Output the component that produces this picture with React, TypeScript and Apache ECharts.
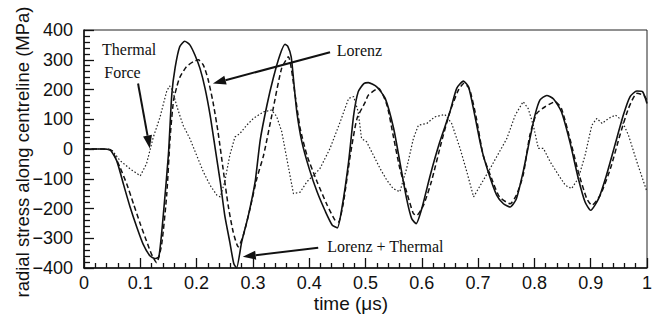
import React, { useEffect, useRef } from 'react';
import * as echarts from 'echarts';

// time (µs), radial stress (MPa)
const lorenzThermal: [number, number][] = [
  [0, 0], [0.03, 0], [0.046, -3], [0.058, -39], [0.07, -118], [0.082, -196], [0.094, -264],
  [0.105, -320], [0.117, -359], [0.126, -368], [0.133, -362], [0.141, -219], [0.15, -17],
  [0.156, 185], [0.162, 275], [0.17, 344], [0.179, 362], [0.188, 350], [0.197, 316],
  [0.206, 271], [0.215, 204], [0.224, 114], [0.233, 2], [0.242, -110], [0.25, -223],
  [0.259, -313], [0.266, -385], [0.271, -400], [0.28, -313], [0.292, -223], [0.304, -110],
  [0.313, 30], [0.325, 148], [0.336, 237], [0.348, 316], [0.357, 352], [0.362, 345],
  [0.368, 310], [0.372, 237], [0.378, 125], [0.387, 24], [0.4, -66], [0.414, -144],
  [0.429, -211], [0.441, -256], [0.45, -265], [0.458, -200], [0.47, -43], [0.479, 114],
  [0.487, 192], [0.497, 220], [0.505, 223], [0.52, 209], [0.535, 170], [0.55, 69],
  [0.561, -43], [0.573, -167], [0.582, -234], [0.59, -251], [0.6, -200], [0.615, -88],
  [0.632, 24], [0.65, 125], [0.662, 204], [0.674, 228], [0.683, 209], [0.694, 114],
  [0.706, 2], [0.718, -77], [0.733, -155], [0.745, -184], [0.757, -195], [0.768, -167],
  [0.78, -77], [0.792, 35], [0.801, 114], [0.81, 165], [0.822, 180], [0.834, 168],
  [0.848, 125], [0.863, 24], [0.878, -99], [0.89, -178], [0.9, -206], [0.914, -167],
  [0.928, -88], [0.943, 13], [0.958, 114], [0.97, 176], [0.982, 195], [0.992, 193], [1.0, 153],
];

const lorenz: [number, number][] = [
  [0, 0], [0.035, 0], [0.049, -5], [0.064, -62], [0.076, -118], [0.088, -185], [0.1, -252],
  [0.111, -309], [0.12, -354], [0.129, -382], [0.138, -320], [0.147, -152], [0.153, 39],
  [0.159, 163], [0.165, 210], [0.17, 240], [0.182, 277], [0.194, 293], [0.203, 300],
  [0.212, 282], [0.22, 237], [0.229, 159], [0.238, 58], [0.247, -66], [0.256, -189],
  [0.265, -279], [0.274, -329], [0.283, -290], [0.295, -200], [0.307, -99], [0.319, -21],
  [0.336, 136], [0.351, 271], [0.363, 310], [0.375, 181], [0.384, 69], [0.396, -21],
  [0.414, -110], [0.432, -189], [0.446, -240], [0.452, -245], [0.461, -178], [0.473, -21],
  [0.485, 103], [0.5, 159], [0.505, 181], [0.523, 204], [0.538, 148], [0.549, 47],
  [0.561, -66], [0.573, -144], [0.585, -217], [0.591, -223], [0.603, -189], [0.617, -110],
  [0.635, 24], [0.65, 125], [0.665, 198], [0.675, 221], [0.685, 200], [0.697, 103],
  [0.709, -21], [0.724, -99], [0.738, -161], [0.757, -184], [0.768, -155], [0.78, -88],
  [0.792, 47], [0.804, 119], [0.819, 142], [0.837, 159], [0.848, 136], [0.863, 35],
  [0.878, -77], [0.893, -167], [0.902, -189], [0.917, -155], [0.935, -66], [0.952, 47],
  [0.967, 136], [0.982, 187], [0.994, 181], [1.0, 164],
];

const thermalForce: [number, number][] = [
  [0, 0], [0.04, 0], [0.05, -5], [0.064, -39], [0.082, -67], [0.1, -90], [0.111, -50],
  [0.123, 39], [0.135, 107], [0.147, 195], [0.152, 212], [0.158, 195], [0.162, 163],
  [0.168, 125], [0.176, 80], [0.188, 35], [0.2, -21], [0.212, -77], [0.224, -122],
  [0.236, -155], [0.242, -161], [0.25, -110], [0.259, -21], [0.268, 40], [0.277, 52],
  [0.289, 80], [0.301, 103], [0.319, 125], [0.333, 131], [0.342, 110], [0.351, 60],
  [0.36, -30], [0.372, -150], [0.384, -145], [0.396, -110], [0.408, -88], [0.419, -66],
  [0.437, 2], [0.455, 91], [0.47, 170], [0.479, 176], [0.487, 125], [0.493, 35],
  [0.502, 24], [0.514, -21], [0.526, -66], [0.538, -105], [0.549, -133], [0.561, -144],
  [0.573, -66], [0.585, 35], [0.594, 80], [0.609, 86], [0.623, 108], [0.641, 116],
  [0.653, 86], [0.668, 2], [0.68, -77], [0.692, -161], [0.704, -122], [0.718, -77],
  [0.733, -26], [0.751, 35], [0.766, 114], [0.78, 159], [0.789, 136], [0.798, 80],
  [0.807, 2], [0.816, 2], [0.828, -43], [0.843, -88], [0.855, -122], [0.866, -133],
  [0.878, -99], [0.89, -21], [0.902, 80], [0.911, 103], [0.92, 86], [0.932, 103],
  [0.944, 114], [0.955, 97], [0.967, 47], [0.982, -43], [1.0, -144],
];

const xAxisName = 'time (\u03bcs)';
const yAxisName = 'radial stress along centreline (MPa)';

// annotations in data coordinates
const labels = [
  { text: 'Thermal', at: [0.032, 335] },
  { text: 'Force', at: [0.036, 258] },
  { text: 'Lorenz', at: [0.449, 332] },
  { text: 'Lorenz + Thermal', at: [0.432, -328] },
];
const arrows = [
  { from: [0.096, 220], to: [0.117, 2] },
  { from: [0.437, 325], to: [0.229, 220] },
  { from: [0.416, -332], to: [0.282, -362] },
];

export default function App() {
  const ref = useRef<HTMLDivElement>(null);
  useEffect(() => {
    const chart = echarts.init(ref.current!, null, { renderer: 'svg' });
    const axisFont = { fontFamily: 'Liberation Sans', fontSize: 18, color: '#111' };
    chart.setOption({
      animation: false,
      backgroundColor: '#fff',
      grid: { left: 84, right: 10, top: 30, bottom: 47, show: true, borderColor: '#222', borderWidth: 1, backgroundColor: 'transparent' },
      xAxis: {
        type: 'value', min: 0, max: 1, interval: 0.1,
        axisLine: { onZero: false, lineStyle: { color: '#111', width: 1.5 } },
        axisTick: { inside: true, length: 10, lineStyle: { color: '#111', width: 1.3 } },
        minorTick: { show: true, splitNumber: 5, length: 5, lineStyle: { color: '#111', width: 1.3 } },
        splitLine: { show: false },
        axisLabel: {
          ...axisFont, margin: 6,
          formatter: (v: number) => (v === 0 ? '0' : v === 1 ? '1' : v.toFixed(1)),
        },
      },
      yAxis: {
        type: 'value', min: -400, max: 400, interval: 100,
        axisLine: { onZero: false, lineStyle: { color: '#111', width: 1.5 } },
        axisTick: { inside: true, length: 10, lineStyle: { color: '#111', width: 1.3 } },
        minorTick: { show: true, splitNumber: 5, length: 6, lineStyle: { color: '#111', width: 1.3 } },
        splitLine: { show: false },
        axisLabel: {
          ...axisFont, margin: 11,
          formatter: (v: number) => (v < 0 ? '\u2212' + Math.abs(v) : String(v)),
        },
      },
      series: [
        {
          name: 'Lorenz + Thermal', type: 'line', data: lorenzThermal, showSymbol: false, smooth: 0.2,
          lineStyle: { color: '#111', width: 1.6, type: 'solid' },
        },
        {
          name: 'Lorenz', type: 'line', data: lorenz, showSymbol: false, smooth: 0.2,
          lineStyle: { color: '#111', width: 1.5, type: [5, 3] },
        },
        {
          name: 'Thermal Force', type: 'line', data: thermalForce, showSymbol: false, smooth: false,
          lineStyle: { color: '#222', width: 1.2, type: [1.5, 2] },
        },
      ],
    });

    const px = (pt: number[]) => chart.convertToPixel({ gridIndex: 0 }, pt) as number[];
    const graphics: any[] = [];
    labels.forEach((l) => {
      const [x, y] = px(l.at);
      graphics.push({
        type: 'text', x, y, silent: true,
        style: { text: l.text, fontFamily: 'Liberation Serif', fontSize: 16, fill: '#111', verticalAlign: 'middle', align: 'left' },
      });
    });
    arrows.forEach((a) => {
      const [sx, sy] = px(a.from);
      const [tx, ty] = px(a.to);
      const dx = tx - sx, dy = ty - sy;
      const len = Math.hypot(dx, dy);
      const ux = dx / len, uy = dy / len;
      const hl = 13, hw = 4.5;
      const bx = tx - ux * hl, by = ty - uy * hl;
      graphics.push({
        type: 'line', silent: true,
        shape: { x1: sx, y1: sy, x2: bx, y2: by },
        style: { stroke: '#111', lineWidth: 2 },
      });
      graphics.push({
        type: 'polygon', silent: true,
        shape: { points: [[tx, ty], [bx - uy * hw, by + ux * hw], [bx + uy * hw, by - ux * hw]] },
        style: { fill: '#111' },
      });
    });
    graphics.push({
      type: 'text', x: 351, y: 303, silent: true,
      style: { text: xAxisName, fontFamily: 'Liberation Sans', fontSize: 19, fill: '#111', align: 'center', verticalAlign: 'middle' },
    });
    graphics.push({
      type: 'text', x: 22, y: 152, rotation: Math.PI / 2, silent: true,
      style: { text: yAxisName, fontFamily: 'Liberation Sans', fontSize: 18.5, fill: '#111', align: 'center', verticalAlign: 'middle' },
    });
    chart.setOption({ graphic: graphics });
    return () => chart.dispose();
  }, []);
  return <div ref={ref} style={{ position: 'fixed', left: 0, top: 0, width: 657, height: 315 }} />;
}
